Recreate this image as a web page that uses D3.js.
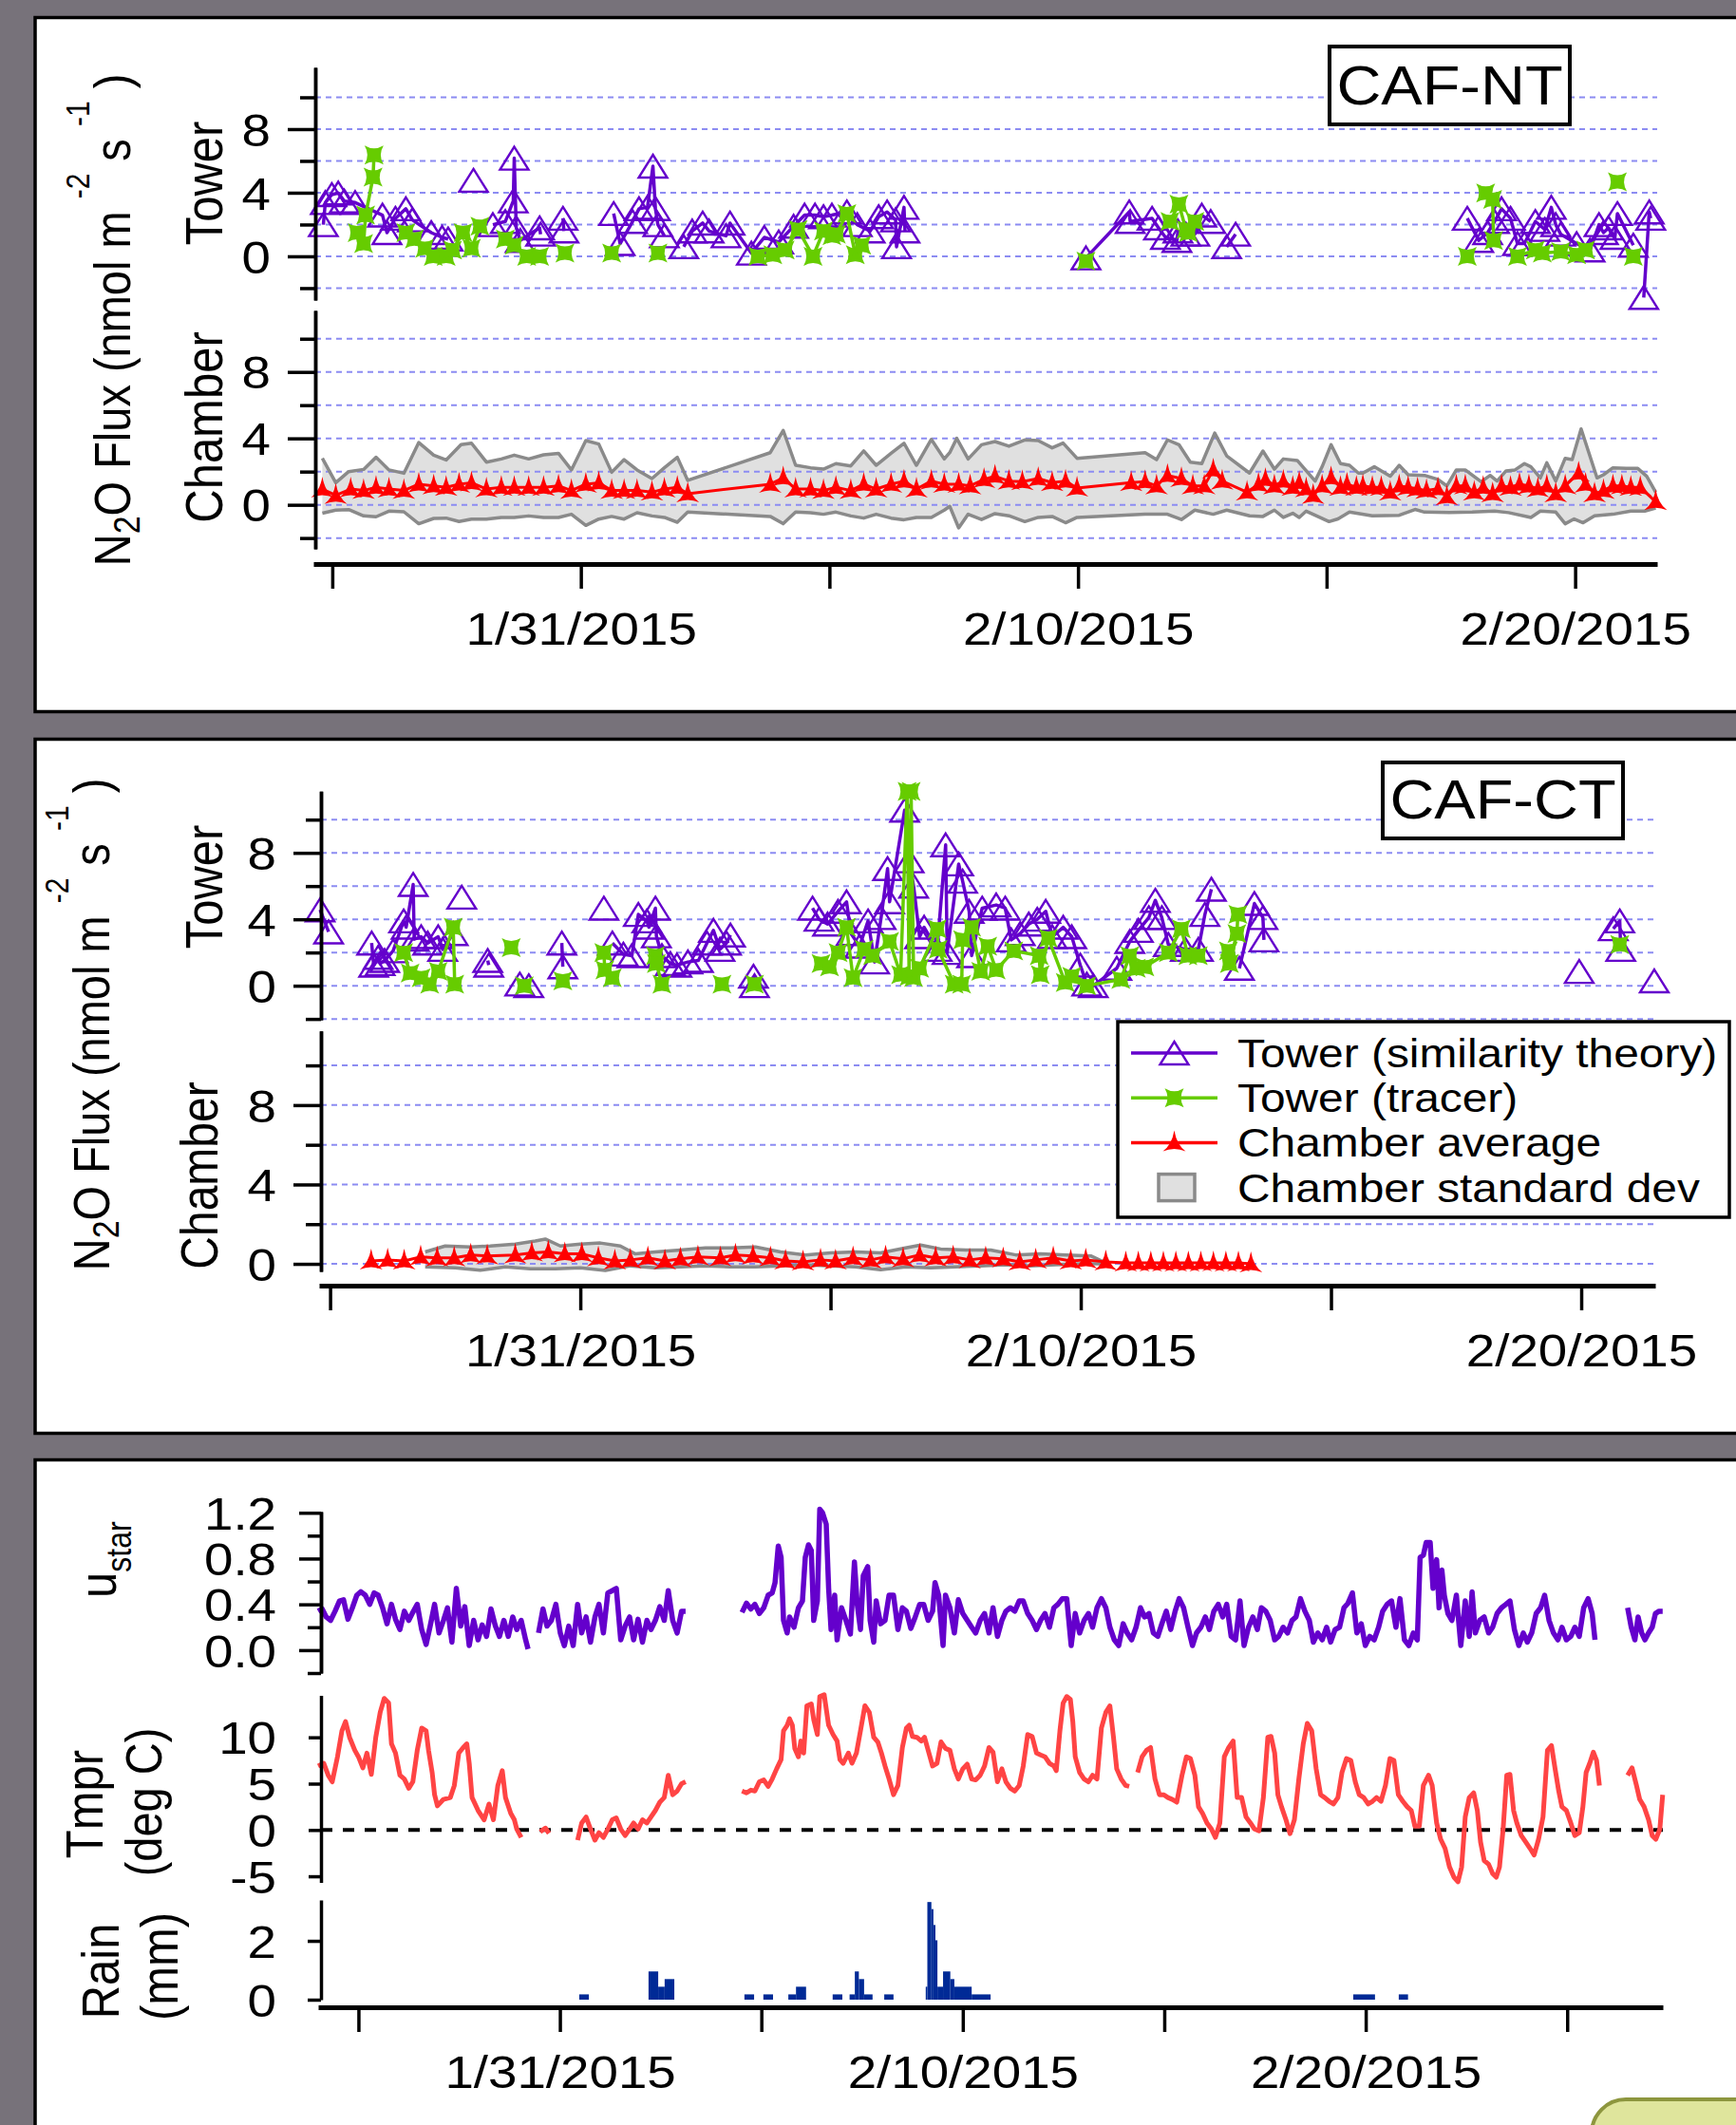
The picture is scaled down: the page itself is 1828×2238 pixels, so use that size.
<!DOCTYPE html>
<meta charset="utf-8">
<title>N2O flux, CAF-NT and CAF-CT</title>
<style>
html, body { margin: 0; padding: 0; background: #77727a; }
svg { display: block; }
text { font-family: "Liberation Sans", Arial, sans-serif; fill: #000; white-space: pre; }
.axis path, .axis line { stroke: #000; stroke-width: 3.5; }
.axis text { font-family: "Liberation Sans", Arial, sans-serif; fill: #000; }
.grid line { stroke: #8c8cf2; stroke-width: 2; stroke-dasharray: 6,5; }
</style>
<body>
<svg width="1828" height="2238"></svg>
<script src="https://cdn.jsdelivr.net/npm/d3@7"></script>
<script>

// ---- data: [day since 2015-01-25 00:00, value], null = gap ----

var tickDays = [1, 6, 11, 16, 21, 26, 31];
var labelDays = [6, 16, 26];

// CAF-NT tower, similarity theory
var ntTower = [
[0.82,1.99],[0.86,3.38],[0.99,3.88],[1.12,3.98],[1.24,3.48],[1.46,3.38],[2.01,2.59],[2.10,1.49],[2.27,2.39],[2.48,2.99],
[2.61,2.29],[2.99,1.49],[3.21,1.19],[3.33,1.09],null,[3.84,4.78],null,[4.23,1.99],[4.48,2.19],[4.64,3.48],[4.66,6.17],
[4.70,1.8],[4.78,1.00],[5.17,1.79],[5.19,1.39],null,[5.64,2.39],[5.66,1.59],null,[6.66,2.69],[6.79,0.80],[7.04,2.19],
[7.17,2.99],[7.34,3.08],[7.45,5.67],[7.50,3.0],[7.55,1.99],[7.68,1.29],null,[8.07,0.60],[8.24,1.59],[8.45,2.09],[8.58,1.59],
[8.92,1.29],[9.00,2.09],[9.43,0.20],[9.69,1.19],[9.98,0.90],[10.28,1.89],[10.50,2.59],[10.71,2.59],[10.88,2.49],[11.05,2.59],
[11.35,2.79],[11.56,1.99],[11.82,1.59],[11.99,2.49],[12.16,2.79],[12.33,2.29],[12.35,0.60],[12.50,3.08],[12.52,1.59],null,
[16.16,-0.10],[17.03,2.79],[17.05,2.19],[17.49,2.39],[17.62,1.79],[17.76,1.19],[17.99,1.00],[18.01,1.59],[18.17,1.39],
[18.35,1.39],[18.49,2.59],[18.67,2.19],null,[18.99,0.60],[19.17,1.39],null,[23.83,2.39],[24.06,1.00],[24.24,1.49],
[24.38,2.19],[24.52,2.99],[24.70,2.39],[24.84,0.80],[24.98,0.80],[25.20,2.19],[25.39,1.69],[25.52,3.08],[25.61,1.99],
[25.71,1.39],[26.03,0.80],[26.30,0.40],[26.48,1.99],[26.57,1.49],[26.67,1.79],[26.80,1.19],[26.85,2.69],[27.17,0.70],null,
[27.38,-2.59],[27.49,2.79],[27.52,2.39]
];
// CAF-NT tower, tracer
var ntTracer = [
[1.50,1.49],[1.63,0.80],[1.67,2.59],[1.82,4.98],[1.84,6.37],null,[2.48,1.49],[2.65,1.09],[2.86,0.50],[3.03,0],[3.29,0],
[3.42,0.40],[3.63,1.49],[3.80,0.50],[3.97,1.89],null,[4.48,1.09],[4.66,0.70],[4.91,0],[5.17,0],null,[5.68,0.20],null,
[6.62,0.20],null,[7.55,0.20],null,[9.56,0],[9.86,0.10],[10.11,0.40],[10.37,1.69],[10.67,0],[10.88,1.59],[11.05,1.29],
[11.14,1.39],[11.35,2.69],[11.52,0.10],[11.65,0.70],null,[16.16,-0.30],null,[17.85,2.19],[18.03,3.28],[18.17,1.69],
[18.22,1.49],[18.35,2.19],null,[23.83,0],null,[24.20,3.98],[24.34,3.58],[24.36,1.00],null,[24.84,0],[25.20,0.40],
[25.34,0.20],[25.71,0.30],[26.03,0.10],[26.21,0.40],null,[26.85,4.68],null,[27.17,0]
];
// CAF-NT chamber average and average +/- standard deviation
var ntChamber = [
[0.80,0.95],[1.07,0.57],[1.37,0.95],[1.63,0.86],[1.88,1.05],[2.14,0.95],[2.44,0.86],[2.74,1.24],[3.04,1.14],[3.29,1.05],
[3.55,1.24],[3.80,1.33],[4.10,0.95],[4.40,1.05],[4.66,1.05],[4.95,1.05],[5.25,1.05],[5.55,1.14],[5.81,0.86],[6.10,1.24],
[6.36,1.33],[6.62,0.86],[6.87,0.86],[7.13,0.86],[7.43,0.76],[7.68,0.95],[7.94,1.05],[8.15,0.67],[9.81,1.24],[10.07,1.62],
[10.32,0.95],[10.62,0.95],[10.88,0.86],[11.13,1.05],[11.43,0.86],[11.69,1.24],[11.94,0.95],[12.24,1.24],[12.50,1.43],
[12.75,0.95],[13.05,1.43],[13.31,1.24],[13.60,1.24],[13.83,1.14],[14.11,1.53],[14.33,1.72],[14.61,1.43],[14.88,1.39],
[15.20,1.58],[15.48,1.34],[15.75,1.43],[15.98,1.01],[17.07,1.34],[17.35,1.39],[17.58,1.14],[17.80,1.77],[18.08,1.58],
[18.31,1.14],[18.54,1.14],[18.72,2.10],[18.90,1.43],[19.40,0.76],[19.63,1.24],[19.77,1.53],[19.95,1.14],[20.13,1.43],
[20.32,1.05],[20.45,1.34],[20.59,0.96],[20.73,0.57],[20.91,1.14],[21.09,1.62],[21.28,1.05],[21.41,1.24],[21.60,1.05],
[21.73,1.14],[21.92,1.05],[22.10,1.05],[22.28,0.76],[22.46,1.14],[22.64,1.05],[22.83,0.96],[23.01,0.86],[23.24,0.96],
[23.42,0.48],[23.61,1.14],[23.79,1.14],[23.97,0.76],[24.15,1.05],[24.34,0.67],[24.52,1.14],[24.70,1.05],[24.88,1.24],
[25.07,1.14],[25.25,0.96],[25.43,1.14],[25.61,0.67],[25.80,1.14],[26.07,1.91],[26.21,1.24],[26.39,0.67],[26.57,0.86],
[26.76,1.14],[26.94,1.14],[27.12,1.05],[27.31,1.05],[27.62,0.19]
];
var ntChamberHi = [
[0.80,2.80],[1.07,1.33],[1.33,2.00],[1.63,2.13],[1.88,2.86],[2.14,2.10],[2.44,1.90],[2.74,3.75],[3.04,2.99],[3.29,2.70],
[3.59,3.62],[3.80,3.71],[4.10,2.57],[4.40,2.76],[4.66,2.99],[4.95,2.76],[5.25,3.01],[5.55,3.10],[5.81,2.10],[6.10,3.87],
[6.36,3.66],[6.62,1.96],[6.87,2.72],[7.13,2.10],[7.43,1.58],[7.68,2.23],[7.94,2.86],[8.15,1.47],[9.81,3.14],[10.07,4.48],
[10.32,2.38],[10.62,2.23],[10.88,2.15],[11.13,2.48],[11.43,2.34],[11.69,3.24],[11.94,2.38],[12.24,3.10],[12.50,3.71],
[12.75,2.38],[13.05,3.94],[13.31,2.76],[13.42,3.14],[13.56,4.00],[13.79,2.76],[14.06,3.62],[14.33,3.81],[14.61,3.53],
[14.93,3.91],[15.20,3.87],[15.48,3.43],[15.70,3.72],[15.98,2.80],[17.35,3.14],[17.58,2.72],[17.80,3.91],[18.03,3.62],
[18.26,2.57],[18.49,2.48],[18.75,4.32],[18.99,2.95],[19.45,1.91],[19.72,3.24],[19.95,2.15],[20.13,2.76],[20.41,2.67],
[20.77,1.43],[20.91,2.29],[21.09,3.62],[21.28,2.48],[21.46,2.38],[21.64,1.91],[21.73,1.91],[21.96,2.29],[22.28,1.72],
[22.46,2.38],[22.64,1.81],[22.97,1.77],[23.24,1.53],[23.42,1.14],[23.61,2.10],[23.79,2.10],[24.11,1.39],[24.29,1.77],
[24.43,1.43],[24.61,2.04],[24.79,2.10],[24.98,2.48],[25.11,2.29],[25.30,1.62],[25.43,2.53],[25.61,1.43],[25.80,2.80],
[25.94,2.72],[26.12,4.57],[26.44,1.62],[26.57,1.81],[26.76,2.23],[27.03,2.19],[27.26,2.19],[27.44,1.72],[27.62,0.76]
];
var ntChamberLo = [
[0.80,-0.51],[1.07,-0.32],[1.33,-0.29],[1.63,-0.67],[1.88,-0.72],[2.14,-0.38],[2.44,-0.42],[2.74,-1.14],[3.04,-0.82],
[3.29,-0.80],[3.55,-1.01],[3.80,-0.86],[4.10,-0.86],[4.40,-0.76],[4.66,-0.76],[4.95,-0.67],[5.25,-0.76],[5.55,-0.76],
[5.81,-0.57],[6.10,-1.24],[6.36,-0.86],[6.62,-0.70],[6.87,-0.86],[7.13,-0.48],[7.43,-0.67],[7.68,-0.76],[7.94,-1.05],
[8.15,-0.44],[9.81,-0.70],[10.07,-1.14],[10.32,-0.44],[10.62,-0.48],[10.88,-0.57],[11.13,-0.44],[11.43,-0.67],[11.69,-0.80],
[11.94,-0.57],[12.24,-0.80],[12.50,-0.90],[12.75,-0.76],[13.05,-0.76],[13.31,-0.32],[13.42,-0.09],[13.60,-1.39],[13.79,-0.57],
[14.06,-0.89],[14.33,-0.53],[14.61,-0.66],[14.93,-1.01],[15.20,-0.76],[15.48,-0.70],[15.75,-1.08],[15.98,-0.76],[17.35,-0.57],
[17.80,-0.57],[18.08,-0.89],[18.35,-0.32],[18.72,-0.57],[18.99,-0.32],[19.45,-0.66],[19.72,-0.70],[19.95,-0.32],[20.13,-0.76],
[20.32,-0.51],[20.45,-0.76],[20.59,-0.38],[20.77,-0.63],[21.05,-1.01],[21.23,-0.85],[21.46,-0.44],[21.92,-0.66],[22.46,-0.63],
[22.78,-0.28],[22.97,-0.44],[23.47,-0.47],[23.93,-0.44],[24.38,-0.38],[24.66,-0.47],[25.11,-0.76],[25.30,-0.38],[25.61,-0.44],
[25.80,-1.14],[25.98,-0.85],[26.16,-1.08],[26.39,-0.66],[26.76,-0.57],[27.12,-0.38],[27.40,-0.38],[27.62,-0.19]
];

// CAF-CT tower, similarity theory
var ctTower = [
[0.80,4.57],[0.97,3.24],null,[1.83,2.57],[1.87,1.24],[1.96,1.71],[2.00,1.33],[2.09,1.52],[2.26,2.10],[2.47,3.90],[2.52,3.52],
[2.66,6.10],[2.68,2.8],[2.82,2.95],[2.95,2.57],[3.16,2.95],[3.25,2.19],[3.46,3.14],null,[3.63,5.33],null,[4.15,1.52],
[4.17,1.24],null,[4.79,0.10],[4.97,0],null,[5.63,2.57],[5.65,1.14],null,[6.47,4.67],null,[6.64,2.57],[6.86,1.90],[7.03,1.81],
[7.16,4.29],[7.33,3.90],[7.37,3.52],[7.50,4.67],[7.52,3.0],[7.63,1.81],[7.80,1.33],[7.93,1.24],[8.15,1.43],[8.36,1.52],
[8.53,2.57],[8.66,3.33],[8.79,2.19],[8.92,2.57],[9.00,3.05],null,[9.46,0.57],[9.48,0],null,[10.64,4.67],[10.77,4.00],
[10.94,3.71],[11.15,4.48],[11.32,5.05],[11.41,3.14],[11.58,2.38],[11.75,3.90],[11.88,1.43],[12.01,4.10],[12.14,7.05],
[12.18,5.05],[12.48,10.57],[12.57,7.52],[12.66,6.00],[12.78,2.95],[12.87,3.52],[13.13,2.19],[13.30,8.48],[13.33,2.0],
[13.56,7.33],[13.64,6.29],[13.77,4.48],[13.82,1.81],[14.03,4.67],[14.31,4.86],[14.49,4.67],[14.61,2.76],[14.79,3.14],
[14.96,3.71],[15.13,4.00],[15.30,4.48],[15.43,2.95],[15.65,3.52],[15.82,2.95],[15.99,1.24],[16.12,0.10],[16.25,0],
[16.72,1.05],[16.98,2.67],[17.15,3.33],[17.36,4.10],[17.49,5.14],[17.62,4.10],[17.75,2.48],[18.09,2.19],[18.35,2.19],
[18.48,4.29],[18.61,5.81],null,[19.17,1.05],[19.47,4.95],[19.64,4.10],[19.66,2.76],null,[25.96,0.86],null,[26.64,3.43],
[26.77,3.90],[26.79,2.19],null,[27.46,0.29]
];
// CAF-CT tower, tracer
var ctTracer = [
[2.47,2.00],[2.60,0.76],[2.82,0.48],[2.99,0.10],[3.16,0.86],[3.46,3.52],[3.49,0.10],null,[4.62,2.29],null,[4.88,0],null,
[5.65,0.29],null,[6.47,2.00],[6.49,0.95],[6.64,0.48],null,[7.50,1.81],[7.52,1.33],[7.63,0.10],null,[8.83,0.10],null,
[9.48,0.10],null,[10.81,1.33],[10.98,1.14],[11.15,2.00],[11.32,3.52],[11.45,0.48],[11.67,2.19],[11.84,1.81],[12.18,2.67],
[12.40,0.67],[12.53,11.70],[12.57,0.57],[12.61,11.70],[12.66,0.5],[12.78,1.05],[13.13,3.43],[13.15,2.19],[13.47,0.10],
[13.62,0.10],[13.64,2.76],[13.82,3.52],[14.00,0.86],[14.14,2.38],[14.31,0.95],[14.66,2.10],[15.17,1.81],[15.19,0.67],
[15.35,2.86],[15.69,0.19],[15.82,0.57],[16.12,0],[16.80,0.38],[16.98,1.81],[17.11,1.05],[17.28,1.14],[17.75,2.00],
[18.01,3.43],[18.14,1.81],[18.35,1.81],null,[18.95,2.10],[18.97,1.33],[19.12,3.14],[19.14,4.29],null,[26.77,2.48]
];
// CAF-CT chamber
var ctChamber = [
[1.82,0.15],[2.15,0.2],[2.48,0.15],[2.81,0.35],[3.14,0.3],[3.48,0.3],[3.81,0.45],[4.14,0.4],[4.70,0.45],[5.03,0.55],
[5.36,0.6],[5.69,0.5],[6.03,0.5],[6.36,0.3],[6.69,0.15],[7.00,0.2],[7.35,0.3],[7.69,0.15],[8.00,0.25],[8.35,0.35],
[8.80,0.3],[9.10,0.45],[9.45,0.4],[9.80,0.3],[10.10,0.15],[10.45,0.1],[10.80,0.2],[11.10,0.15],[11.45,0.3],[11.80,0.2],
[12.10,0.35],[12.45,0.25],[12.78,0.45],[13.10,0.3],[13.45,0.35],[13.78,0.2],[14.10,0.3],[14.45,0.25],[14.78,0.1],
[15.10,0.2],[15.45,0.3],[15.80,0.15],[16.10,0.2],[16.50,0.1],[16.90,0.05],[17.15,0.05],[17.40,0.05],[17.65,0.05],
[17.90,0.05],[18.15,0.05],[18.40,0.05],[18.65,0.05],[18.90,0.05],[19.15,0.05],[19.40,0.0]
];
var ctChamberHi = [
[2.90,0.6],[3.30,0.9],[3.80,0.85],[4.20,0.9],[4.70,1.0],[5.10,1.15],[5.30,1.25],[5.60,0.9],[6.00,1.0],[6.40,1.05],
[6.80,0.9],[7.10,0.5],[7.50,0.6],[8.00,0.7],[8.50,0.8],[9.00,0.8],[9.50,0.85],[10.00,0.6],[10.50,0.45],[11.00,0.55],
[11.50,0.6],[12.00,0.55],[12.50,0.8],[12.80,0.95],[13.20,0.75],[13.70,0.7],[14.20,0.7],[14.70,0.45],[15.20,0.5],
[15.70,0.45],[16.20,0.4],[16.50,0.05]
];
var ctChamberLo = [
[2.90,-0.15],[3.50,-0.2],[4.00,-0.32],[4.50,-0.15],[5.00,-0.25],[5.50,-0.25],[6.00,-0.2],[6.50,-0.33],[7.00,-0.1],
[7.50,-0.2],[8.00,-0.15],[8.50,-0.1],[9.00,-0.15],[9.50,-0.15],[10.00,-0.1],[10.50,-0.05],[11.00,-0.1],[11.50,-0.15],
[12.00,-0.3],[12.50,-0.15],[13.00,-0.2],[13.50,-0.15],[14.00,-0.1],[14.50,-0.05],[15.00,-0.1],[15.50,-0.05],[16.00,0.0],
[16.50,0.0]
];

// friction velocity
var ustar = [
[0.00,0.34],[0.10,0.36],[0.20,0.29],[0.31,0.26],[0.42,0.34],[0.53,0.43],[0.63,0.44],[0.74,0.27],[0.85,0.37],[0.96,0.48],
[1.06,0.51],[1.17,0.48],[1.28,0.40],[1.39,0.50],[1.49,0.48],[1.60,0.37],[1.71,0.23],[1.82,0.40],[1.92,0.27],[2.03,0.18],
[2.14,0.34],[2.25,0.26],[2.35,0.33],[2.46,0.40],[2.57,0.18],[2.68,0.05],[2.78,0.21],[2.89,0.40],[3.00,0.15],[3.11,0.26],
[3.21,0.37],[3.32,0.07],[3.43,0.54],[3.54,0.21],[3.64,0.38],[3.75,0.04],[3.86,0.26],[3.97,0.09],[4.07,0.22],[4.18,0.12],
[4.29,0.36],[4.40,0.21],[4.50,0.12],[4.61,0.26],[4.72,0.12],[4.83,0.29],[4.93,0.18],[5.04,0.26],[5.15,0.09],[5.21,0.01],
null,
[5.47,0.15],[5.58,0.36],[5.68,0.21],[5.79,0.26],[5.90,0.40],[6.01,0.15],[6.11,0.04],[6.22,0.21],[6.33,0.04],[6.44,0.40],
[6.54,0.15],[6.65,0.29],[6.76,0.07],[6.87,0.29],[6.97,0.40],[7.08,0.15],[7.19,0.50],[7.30,0.52],[7.40,0.54],[7.51,0.09],
[7.62,0.21],[7.73,0.29],[7.83,0.09],[7.94,0.27],[8.05,0.07],[8.16,0.26],[8.26,0.18],[8.37,0.26],[8.48,0.38],[8.59,0.26],
[8.69,0.52],[8.80,0.26],[8.91,0.15],[9.02,0.34],[9.12,0.34],
null,
[10.52,0.33],[10.63,0.41],[10.74,0.36],[10.84,0.40],[10.95,0.32],[11.06,0.37],[11.17,0.48],[11.27,0.50],[11.34,0.59],
[11.42,0.91],[11.49,0.81],[11.55,0.26],[11.64,0.15],[11.70,0.29],[11.81,0.20],[11.92,0.37],[12.02,0.43],[12.09,0.81],
[12.17,0.92],[12.24,0.87],[12.30,0.26],[12.39,0.43],[12.45,1.23],[12.52,1.20],[12.61,1.10],[12.67,0.54],[12.73,0.18],
[12.82,0.48],[12.88,0.09],[12.99,0.37],[13.10,0.26],[13.21,0.14],[13.31,0.77],[13.38,0.40],[13.46,0.18],[13.53,0.65],
[13.64,0.73],[13.70,0.26],[13.79,0.07],[13.85,0.43],[13.96,0.23],[14.07,0.26],[14.17,0.48],[14.28,0.48],[14.39,0.18],
[14.50,0.37],[14.60,0.34],[14.71,0.19],[14.82,0.29],[14.93,0.40],[15.03,0.40],[15.14,0.26],[15.25,0.34],[15.31,0.59],
[15.40,0.48],[15.51,0.04],[15.57,0.48],[15.68,0.37],[15.79,0.15],[15.89,0.44],[16.00,0.32],[16.11,0.26],[16.22,0.20],
[16.32,0.15],[16.43,0.26],[16.54,0.32],[16.65,0.15],[16.75,0.37],[16.86,0.12],[16.97,0.26],[17.07,0.34],[17.18,0.37],
[17.29,0.34],[17.40,0.43],[17.50,0.43],[17.61,0.32],[17.72,0.26],[17.83,0.18],[17.93,0.26],[18.04,0.32],[18.15,0.20],
[18.26,0.37],[18.36,0.40],[18.47,0.45],[18.58,0.45],[18.69,0.04],[18.79,0.32],[18.90,0.15],[19.01,0.26],[19.12,0.32],
[19.22,0.20],[19.33,0.37],[19.44,0.45],[19.55,0.37],[19.65,0.20],[19.76,0.09],[19.87,0.04],[19.98,0.23],[20.08,0.15],
[20.19,0.09],[20.30,0.20],[20.41,0.37],[20.51,0.29],[20.62,0.32],[20.73,0.15],[20.84,0.12],[20.94,0.23],[21.05,0.34],
[21.16,0.18],[21.27,0.34],[21.37,0.45],[21.48,0.37],[21.59,0.20],[21.70,0.04],[21.80,0.15],[21.91,0.20],[22.02,0.29],
[22.12,0.18],[22.23,0.34],[22.34,0.40],[22.45,0.29],[22.55,0.40],[22.66,0.12],[22.77,0.09],[22.88,0.43],[22.98,0.04],
[23.09,0.20],[23.20,0.29],[23.31,0.18],[23.41,0.37],[23.52,0.34],[23.63,0.26],[23.74,0.09],[23.84,0.12],[23.95,0.20],
[24.06,0.15],[24.17,0.26],[24.27,0.29],[24.38,0.45],[24.49,0.34],[24.60,0.26],[24.70,0.07],[24.81,0.15],[24.92,0.09],
[25.03,0.20],[25.13,0.07],[25.24,0.18],[25.35,0.20],[25.46,0.37],[25.56,0.41],[25.67,0.50],[25.78,0.15],[25.89,0.23],
[25.99,0.04],[26.10,0.12],[26.21,0.09],[26.32,0.20],[26.42,0.34],[26.53,0.40],[26.64,0.43],[26.75,0.20],[26.85,0.45],
[26.96,0.09],[27.07,0.04],[27.18,0.15],[27.28,0.09],[27.35,0.81],[27.43,0.83],[27.50,0.94],[27.60,0.94],[27.67,0.54],
[27.76,0.79],[27.82,0.37],[27.89,0.70],[27.95,0.48],[28.04,0.32],[28.14,0.26],[28.25,0.48],[28.36,0.04],[28.47,0.43],
[28.57,0.12],[28.64,0.51],[28.72,0.15],[28.83,0.26],[28.94,0.29],[29.05,0.15],[29.15,0.20],[29.26,0.32],[29.37,0.37],
[29.48,0.40],[29.58,0.43],[29.69,0.18],[29.80,0.04],[29.91,0.15],[30.01,0.07],[30.12,0.15],[30.23,0.32],[30.34,0.37],
[30.44,0.48],[30.55,0.26],[30.66,0.15],[30.77,0.09],[30.87,0.20],[30.98,0.09],[31.09,0.12],[31.19,0.20],[31.30,0.12],
[31.41,0.37],[31.52,0.45],[31.62,0.32],[31.69,0.09],
null,
[32.50,0.37],[32.59,0.20],[32.68,0.09],[32.76,0.29],[32.85,0.15],[32.93,0.09],[33.02,0.15],[33.11,0.20],[33.19,0.32],
[33.28,0.34],[33.37,0.34]
];

// air temperature, deg C
var tmpr = [
[0.00,6.9],[0.14,7.2],[0.25,5.9],[0.35,5.2],[0.48,7.9],[0.59,10.7],[0.68,11.7],[0.78,10.0],[0.91,8.6],[1.00,7.9],
[1.11,6.7],[1.21,8.3],[1.32,6.0],[1.43,10.0],[1.54,12.7],[1.64,14.2],[1.75,13.7],[1.82,9.3],[1.92,8.3],[2.03,5.9],
[2.14,5.5],[2.25,4.5],[2.35,5.2],[2.46,8.6],[2.57,11.0],[2.68,10.7],[2.74,8.6],[2.83,6.2],[2.89,3.8],[2.96,2.6],
[3.11,3.3],[3.28,3.5],[3.38,4.8],[3.49,8.3],[3.60,8.9],[3.69,9.3],[3.75,7.2],[3.82,3.5],[3.97,2.1],[4.12,1.1],
[4.24,2.8],[4.35,1.1],[4.46,4.8],[4.57,6.4],[4.65,3.5],[4.78,1.8],[4.87,1.1],[4.93,0.1],[5.04,-0.8],
null,
[5.51,-0.2],[5.64,0.2],[5.73,-0.35],
null,
[6.44,-1.1],[6.54,0.75],[6.65,1.4],[6.76,0.1],[6.87,-1.1],[6.97,-0.3],[7.08,-0.8],[7.19,0.1],[7.30,1.1],[7.40,1.3],
[7.51,0.1],[7.62,-0.6],[7.73,0.1],[7.83,0.75],[7.94,0.1],[8.05,1.1],[8.16,0.75],[8.26,1.4],[8.37,2.1],[8.48,3.0],
[8.59,3.5],[8.69,5.9],[8.80,3.8],[8.91,4.2],[9.02,5.0],[9.12,5.2],
null,
[10.52,4.2],[10.63,4.0],[10.74,4.3],[10.84,4.2],[10.95,5.2],[11.06,5.4],[11.17,4.7],[11.27,5.5],[11.38,6.6],[11.49,7.6],
[11.55,10.7],[11.64,11.3],[11.70,12.0],[11.77,11.3],[11.83,8.8],[11.92,7.9],[11.98,9.6],[12.05,8.3],[12.13,13.4],[12.24,13.6],
[12.30,11.9],[12.39,10.3],[12.45,14.4],[12.56,14.6],[12.67,11.3],[12.78,10.3],[12.88,9.6],[12.95,7.6],[13.03,7.2],[13.16,8.3],
[13.25,7.2],[13.36,8.3],[13.46,10.7],[13.57,13.4],[13.68,12.7],[13.79,10.0],[13.89,9.5],[13.98,8.3],[14.07,6.9],[14.17,5.5],
[14.28,3.8],[14.39,4.8],[14.50,8.9],[14.60,11.0],[14.67,11.3],[14.75,10.1],[14.86,10.0],[14.97,9.6],[15.05,10.0],[15.14,8.6],
[15.25,6.9],[15.36,7.2],[15.46,9.5],[15.57,8.8],[15.68,8.6],[15.79,6.6],[15.89,5.5],[16.00,6.6],[16.11,7.1],[16.22,5.5],
[16.32,5.4],[16.43,5.9],[16.54,6.9],[16.65,8.9],[16.75,8.4],[16.86,5.2],[16.97,6.6],[17.07,5.2],[17.18,4.5],[17.29,4.2],
[17.40,4.8],[17.50,6.9],[17.61,10.3],[17.72,10.1],[17.83,8.3],[17.93,8.1],[18.04,7.9],[18.15,7.2],[18.26,6.9],[18.32,6.4],
[18.41,10.7],[18.49,13.7],[18.58,14.4],[18.67,14.1],[18.73,11.7],[18.79,7.9],[18.90,6.2],[19.01,5.5],[19.12,5.2],[19.22,5.9],
[19.33,5.5],[19.44,11.0],[19.55,12.7],[19.65,13.4],[19.74,10.0],[19.82,6.6],[19.93,5.5],[20.04,4.8],[20.13,4.7],
null,
[20.34,6.2],[20.45,7.9],[20.56,8.6],[20.66,8.9],[20.77,5.5],[20.88,3.8],[20.99,3.8],[21.09,3.5],[21.20,3.3],[21.31,3.0],
[21.44,5.9],[21.55,7.9],[21.65,7.7],[21.76,5.9],[21.85,2.5],[21.95,1.8],[22.06,0.75],[22.17,0.1],[22.27,-0.8],[22.38,0.75],
[22.49,7.9],[22.60,8.9],[22.71,9.6],[22.81,3.5],[22.92,3.5],[23.03,1.4],[23.14,0.75],[23.24,0.1],[23.35,-0.1],[23.46,3.5],
[23.57,10.0],[23.65,10.1],[23.74,8.3],[23.82,3.8],[23.91,2.5],[24.02,1.1],[24.12,-0.4],[24.23,1.1],[24.34,5.5],[24.45,9.3],
[24.55,11.5],[24.66,10.7],[24.77,6.6],[24.88,3.8],[24.98,3.5],[25.09,3.1],[25.20,2.8],[25.31,3.5],[25.41,6.2],[25.52,7.7],
[25.63,7.5],[25.74,5.2],[25.84,3.8],[25.95,3.5],[26.06,2.8],[26.17,3.1],[26.27,3.5],[26.38,3.1],[26.49,4.8],[26.60,7.7],
[26.70,7.5],[26.81,3.8],[26.92,3.1],[27.03,2.5],[27.13,2.1],[27.22,0.4],[27.33,0.4],[27.43,4.8],[27.56,5.9],[27.65,4.8],
[27.76,0.75],[27.86,-1.0],[27.97,-2.0],[28.08,-4.0],[28.19,-5.1],[28.29,-5.6],[28.38,-4.0],[28.47,1.4],[28.57,3.5],[28.68,4.0],
[28.77,2.1],[28.85,-1.3],[28.94,-3.3],[29.05,-3.7],[29.15,-4.7],[29.24,-5.1],[29.32,-4.0],[29.41,0.1],[29.50,5.9],[29.58,6.0],
[29.67,2.1],[29.75,0.75],[29.86,-0.6],[29.97,-1.3],[30.08,-2.0],[30.18,-2.7],[30.29,-1.0],[30.40,1.4],[30.51,8.6],[30.61,9.1],
[30.70,6.6],[30.79,4.2],[30.87,2.5],[30.98,2.1],[31.09,0.75],[31.19,-0.6],[31.30,-0.3],[31.39,2.5],[31.47,6.2],[31.56,7.2],
[31.65,8.4],[31.73,7.5],[31.80,4.8],
null,
[32.50,5.9],[32.61,6.7],[32.72,4.8],[32.80,3.3],[32.91,2.5],[33.02,1.1],[33.11,-0.6],[33.20,-1.0],[33.30,0.1],[33.37,3.8]
];

// rain: [start day, end day, mm]
var rain = [
[6.48,6.72,0.18],[8.20,8.44,0.96],[8.44,8.60,0.44],[8.60,8.84,0.7],[10.58,10.82,0.18],[11.05,11.29,0.18],
[11.67,11.86,0.18],[11.86,12.11,0.44],[12.77,13.01,0.18],[13.19,13.32,0.18],[13.32,13.42,0.96],[13.42,13.55,0.7],
[13.55,13.76,0.18],[14.05,14.28,0.18],[15.08,15.12,0.44],[15.12,15.22,3.32],[15.22,15.27,3.08],[15.27,15.32,2.54],
[15.32,15.37,2.02],[15.37,15.51,0.44],[15.51,15.69,0.96],[15.69,15.79,0.7],[15.79,16.22,0.44],[16.22,16.69,0.18],
[25.69,26.23,0.18],[26.82,27.05,0.18]
];

// ---- drawing ----

var SX = 1.14;   // the source picture is stretched sideways
var t0 = new Date(2015, 0, 25).getTime();
function day(d) { return new Date(t0 + d * 864e5); }
var fmtDate = d3.timeFormat("%-m/%-d/%Y");
var fmtInt = function(d) { return String(d); };   // plain hyphen for negatives, as in the source

var PURPLE = "#6400cc", GREEN = "#66cc00", RED = "#ff0000", GREY = "#8a8a8a";
var TRI = "M0,-12L15,12L-15,12Z";
var STAR4 = "M-10,-10Q0,-4 10,-10Q4,0 10,10Q0,4 -10,10Q-4,0 -10,-10Z";
var STAR3 = "M0,-13Q2.5,2 12,9Q0,4 -12,9Q-2.5,2 0,-13Z";

var svg = d3.select("svg");

[[18.5, 731], [778.5, 731], [1537.5, 760]].forEach(function(p) {
  svg.append("rect").attr("x", 37).attr("y", p[0]).attr("width", 1840).attr("height", p[1])
    .attr("fill", "#fff").attr("stroke", "#000").attr("stroke-width", 3.5);
});
svg.append("rect").attr("x", 1676).attr("y", 2211).attr("width", 260).attr("height", 80).attr("rx", 36)
  .attr("fill", "#dfe59c").attr("stroke", "#8d963e").attr("stroke-width", 4);

function text(str, x, y, size, anchor, rot) {
  return svg.append("text")
    .attr("transform", "translate(" + x + "," + y + ") scale(" + SX + ",1)" + (rot ? " rotate(-90)" : ""))
    .attr("text-anchor", anchor || "middle")
    .style("font-size", size + "px")
    .text(str);
}

function leftAxis(y, x, major, minor, majLen, minLen, fmt) {
  if (minor.length) {
    svg.append("g").attr("class", "axis").attr("transform", "translate(" + x + ",0)")
      .call(d3.axisLeft(y).tickValues(minor).tickSize(minLen).tickSizeOuter(0).tickFormat(""));
  }
  var g = svg.append("g").attr("class", "axis").attr("transform", "translate(" + x + ",0)")
    .call(d3.axisLeft(y).tickValues(major).tickSize(majLen).tickSizeOuter(0).tickFormat(fmt));
  g.selectAll(".tick text").attr("x", -47 / SX).attr("dy", "0.36em")
    .attr("transform", "scale(" + SX + ",1)").style("font-size", "48px");
}

function bottomAxis(x, y, ticks) {
  var g = svg.append("g").attr("class", "axis").attr("transform", "translate(0," + y + ")")
    .call(d3.axisBottom(x).tickValues(ticks.map(day)).tickSize(26).tickSizeOuter(0)
      .tickFormat(function(d, i) { return labelDays.indexOf(ticks[i]) >= 0 ? fmtDate(d) : ""; }));
  g.select(".domain").style("stroke-width", 5);
  g.selectAll(".tick text").attr("y", 85).attr("dy", 0)
    .attr("transform", "scale(" + SX + ",1)").style("font-size", "48px");
}

function grid(y, x0, x1, vals) {
  svg.append("g").attr("class", "grid").selectAll("line").data(vals).join("line")
    .attr("x1", x0).attr("x2", x1).attr("y1", y).attr("y2", y);
}

function line(data, x, y, color, width) {
  svg.append("path").datum(data)
    .attr("fill", "none").attr("stroke", color).attr("stroke-width", width)
    .attr("stroke-linejoin", "round")
    .attr("d", d3.line().defined(function(d) { return d; })
      .x(function(d) { return x(day(d[0])); }).y(function(d) { return y(d[1]); }));
}

function marks(data, x, y, shape, fill, stroke, sw) {
  svg.append("g").selectAll("path").data(data.filter(Boolean)).join("path")
    .attr("d", shape)
    .attr("transform", function(d) { return "translate(" + x(day(d[0])) + "," + y(d[1]) + ")"; })
    .attr("fill", fill).attr("stroke", stroke || "none").attr("stroke-width", sw || 0);
}

// filled region between avg+sd and avg-sd
function band(hi, lo, x, y) {
  var pts = hi.concat(lo.slice().reverse());
  var path = d3.line().x(function(d) { return x(day(d[0])); }).y(function(d) { return y(d[1]); });
  svg.append("path").attr("fill", "#e0e0e0").attr("d", path(pts) + "Z");
}

function fluxTitle(x, y) {
  var t = svg.append("text")
    .attr("transform", "translate(" + x + "," + y + ") scale(" + SX + ",1) rotate(-90)")
    .attr("text-anchor", "middle").style("font-size", "47px");
  t.append("tspan").text("N");
  t.append("tspan").attr("dy", 9).style("font-size", "34px").text("2");
  t.append("tspan").attr("dy", -9).text("O Flux (nmol m ");
  t.append("tspan").attr("dy", -38).style("font-size", "30px").text("-2");
  t.append("tspan").attr("dy", 38).text(" s ");
  t.append("tspan").attr("dy", -38).style("font-size", "30px").text("-1");
  t.append("tspan").attr("dy", 38).text(" )");
}

function labelBox(str, x0, y0, x1, y1, base) {
  svg.append("rect").attr("x", x0).attr("y", y0).attr("width", x1 - x0).attr("height", y1 - y0)
    .attr("fill", "#fff").attr("stroke", "#000").attr("stroke-width", 4);
  text(str, (x0 + x1) / 2, base, 57);
}

var grid7 = [-2, 0, 2, 4, 6, 8, 10];

// ---------- panel 1: CAF-NT ----------
var x1 = d3.scaleTime().domain([day(0.62), day(27.65)]).range([330, 1745]);
var yT1 = d3.scaleLinear().domain([-2.75, 11.88]).range([316, 71]);
var yC1 = d3.scaleLinear().domain([-2.65, 11.7]).range([578, 327]);

band(ntChamberHi, ntChamberLo, x1, yC1);
grid(yT1, 332, 1745, grid7);
grid(yC1, 332, 1745, grid7);
line(ntChamberHi, x1, yC1, GREY, 3.5);
line(ntChamberLo, x1, yC1, GREY, 3.5);
line(ntChamber, x1, yC1, RED, 3);
marks(ntChamber, x1, yC1, STAR3, RED);
line(ntTower, x1, yT1, PURPLE, 3.5);
marks(ntTower, x1, yT1, TRI, "none", PURPLE, 2.4);
line(ntTracer, x1, yT1, GREEN, 3.5);
marks(ntTracer, x1, yT1, STAR4, GREEN);
leftAxis(yT1, 332, [0, 4, 8], [-2, 2, 6, 10], 29, 16, fmtInt);
leftAxis(yC1, 332, [0, 4, 8], [-2, 2, 6, 10], 29, 16, fmtInt);
bottomAxis(x1, 594, tickDays.slice(0, 6));
labelBox("CAF-NT", 1400, 49, 1653, 131, 110);
fluxTitle(137, 337);
text("Tower", 234, 193, 49, "middle", true);
text("Chamber", 234, 450, 49, "middle", true);

// ---------- panel 2: CAF-CT ----------
var x2 = d3.scaleTime().domain([day(0.78), day(27.48)]).range([336, 1743]);
var yT2 = d3.scaleLinear().domain([-2.05, 11.71]).range([1074, 833.3]);
var yC2 = d3.scaleLinear().domain([-0.38, 11.74]).range([1339, 1085.7]);

band(ctChamberHi, ctChamberLo, x2, yC2);
grid(yT2, 338, 1745, grid7);
grid(yC2, 338, 1745, [0, 2, 4, 6, 8, 10]);
line(ctChamberHi, x2, yC2, GREY, 3.5);
line(ctChamberLo, x2, yC2, GREY, 3.5);
line(ctChamber, x2, yC2, RED, 3);
marks(ctChamber, x2, yC2, STAR3, RED);
line(ctTower, x2, yT2, PURPLE, 3.5);
marks(ctTower, x2, yT2, TRI, "none", PURPLE, 2.4);
line(ctTracer, x2, yT2, GREEN, 3.5);
marks(ctTracer, x2, yT2, STAR4, GREEN);
leftAxis(yT2, 338, [0, 4, 8], [-2, 2, 6, 10], 29, 16, fmtInt);
leftAxis(yC2, 338, [0, 4, 8], [2, 6, 10], 29, 16, fmtInt);
bottomAxis(x2, 1354, tickDays.slice(0, 6));
labelBox("CAF-CT", 1456, 803, 1709, 883, 862);
fluxTitle(115, 1079);
text("Tower", 234, 934, 49, "middle", true);
text("Chamber", 229, 1238, 48, "middle", true);

// legend
svg.append("rect").attr("x", 1177).attr("y", 1076).attr("width", 644).attr("height", 206)
  .attr("fill", "#fff").attr("stroke", "#000").attr("stroke-width", 3.5);
var legend = [
  {name: "Tower (similarity theory)", color: PURPLE, shape: TRI, fill: "none", stroke: PURPLE},
  {name: "Tower (tracer)", color: GREEN, shape: STAR4, fill: GREEN},
  {name: "Chamber average", color: RED, shape: STAR3, fill: RED},
  {name: "Chamber standard dev", box: true}
];
legend.forEach(function(d, i) {
  var cy = 1109 + i * 47.2;
  if (d.box) {
    svg.append("rect").attr("x", 1220).attr("y", cy - 14).attr("width", 38).attr("height", 28)
      .attr("fill", "#e0e0e0").attr("stroke", GREY).attr("stroke-width", 3.5);
  } else {
    svg.append("line").attr("x1", 1191).attr("x2", 1282).attr("y1", cy).attr("y2", cy)
      .attr("stroke", d.color).attr("stroke-width", 3.5);
    svg.append("path").attr("d", d.shape).attr("transform", "translate(1236.5," + cy + ")")
      .attr("fill", d.fill).attr("stroke", d.stroke || "none").attr("stroke-width", 2.4);
  }
  text(d.name, 1303, cy + 15, 42, "start");
});

// ---------- panel 3: met ----------
var x3 = d3.scaleTime().domain([day(0), day(33.375)]).range([335, 1751]);
var yU = d3.scaleLinear().domain([-0.2, 1.21]).range([1762, 1592]);
var yTm = d3.scaleLinear().domain([-5.66, 14.52]).range([1982.5, 1785.6]);
var yR = d3.scaleLinear().domain([0, 3.39]).range([2106, 2001]);

line(ustar, x3, yU, PURPLE, 5.5);

svg.append("line").attr("x1", 338).attr("x2", 1751).attr("y1", yTm(0)).attr("y2", yTm(0))
  .attr("stroke", "#000").attr("stroke-width", 4).attr("stroke-dasharray", "12,11");
line(tmpr, x3, yTm, "#ff4444", 5);

svg.append("g").selectAll("rect").data(rain).join("rect")
  .attr("x", function(d) { return x3(day(d[0])); })
  .attr("width", function(d) { return x3(day(d[1])) - x3(day(d[0])); })
  .attr("y", function(d) { return yR(d[2]); })
  .attr("height", function(d) { return yR(0) - yR(d[2]); })
  .attr("fill", "#002a96");

leftAxis(yU, 338, [0, 0.4, 0.8, 1.2], [-0.2, 0.2, 0.6, 1.0], 23, 14, d3.format(".1f"));
leftAxis(yTm, 338, [-5, 0, 5, 10], [], 13, 0, fmtInt);
leftAxis(yR, 338, [0, 2], [], 14, 0, fmtInt);
bottomAxis(x3, 2114, tickDays);

var u = svg.append("text")
  .attr("transform", "translate(122,1683) scale(" + SX + ",1) rotate(-90)")
  .attr("text-anchor", "start").style("font-size", "49px");
u.append("tspan").text("u");
u.append("tspan").attr("dy", 14).style("font-size", "32px").text("star");
text("Tmpr", 108, 1900, 49, "middle", true);
text("(deg C)", 170, 1898, 47, "middle", true);
text("Rain", 125, 2076, 49, "middle", true);
text("(mm)", 187, 2071, 49, "middle", true);

</script>
</body>
